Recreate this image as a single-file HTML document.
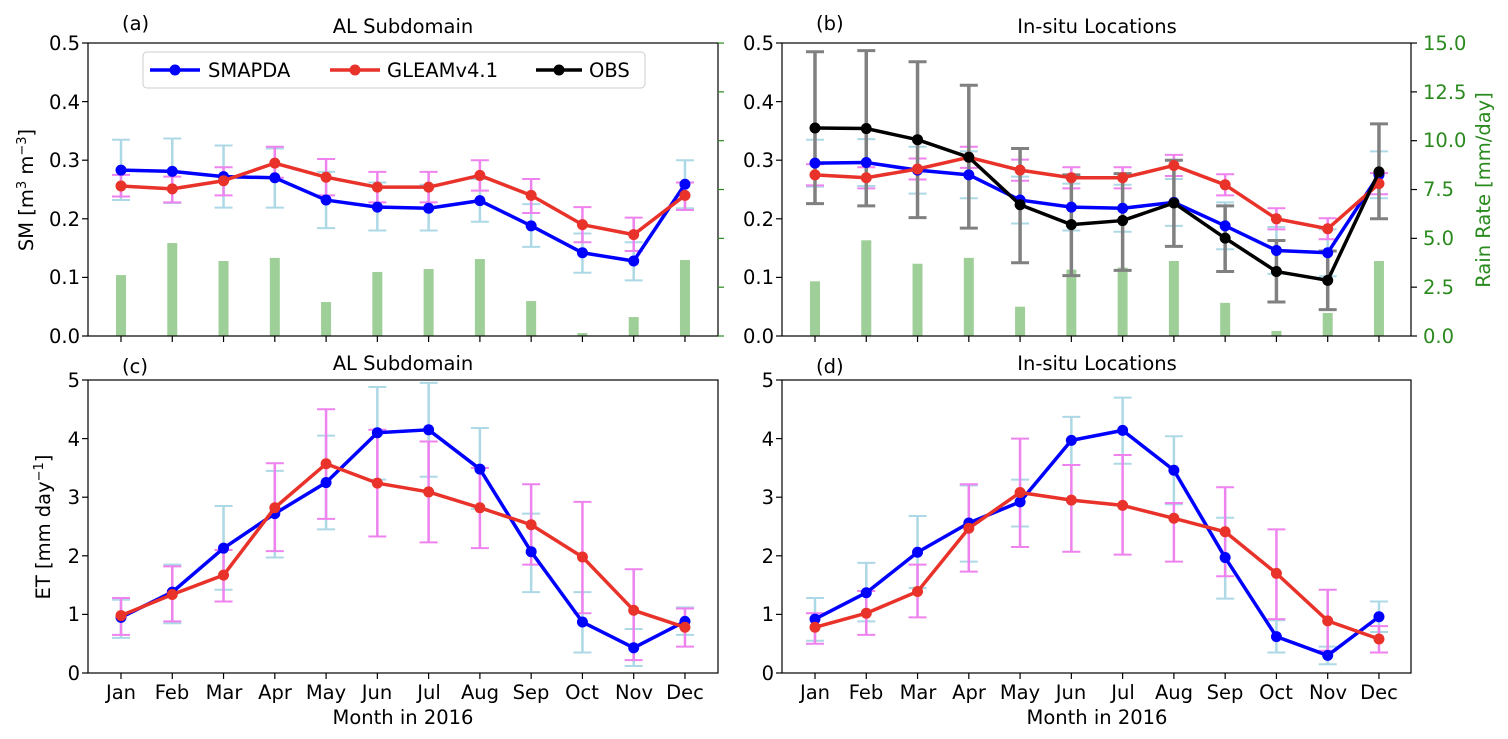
<!DOCTYPE html>
<html><head><meta charset="utf-8">
<style>
html,body{margin:0;padding:0;background:#fff;}
svg{display:block;font-family:"DejaVu Sans","Liberation Sans",sans-serif;}
text{font-size:19.5px;fill:#000;}
.g{fill:#2a8a1e;}
</style></head>
<body>
<svg id="s" width="1508" height="739" viewBox="0 0 1508 739" xmlns="http://www.w3.org/2000/svg">
<g id="data"></g>
<g fill="none" stroke="#000" stroke-width="1.2">
<rect x="88" y="43" width="630" height="293"/>
<rect x="782" y="43" width="629" height="293"/>
<rect x="88" y="380" width="630" height="293"/>
<rect x="782" y="380" width="629" height="293"/>
</g>
<g id="ticks" stroke="#000" stroke-width="1.2"></g>
<g text-anchor="end">
<text x="80" y="50">0.5</text><text x="80" y="109">0.4</text><text x="80" y="167">0.3</text><text x="80" y="226">0.2</text><text x="80" y="284">0.1</text><text x="80" y="343">0.0</text>
<text x="774" y="50">0.5</text><text x="774" y="109">0.4</text><text x="774" y="167">0.3</text><text x="774" y="226">0.2</text><text x="774" y="284">0.1</text><text x="774" y="343">0.0</text>
<text x="80" y="387">5</text><text x="80" y="446">4</text><text x="80" y="504">3</text><text x="80" y="563">2</text><text x="80" y="621">1</text><text x="80" y="680">0</text>
<text x="774" y="387">5</text><text x="774" y="446">4</text><text x="774" y="504">3</text><text x="774" y="563">2</text><text x="774" y="621">1</text><text x="774" y="680">0</text>
</g>
<g>
<text class="g" x="1423" y="50">15.0</text><text class="g" x="1423" y="99">12.5</text><text class="g" x="1423" y="147">10.0</text><text class="g" x="1423" y="196">7.5</text><text class="g" x="1423" y="245">5.0</text><text class="g" x="1423" y="294">2.5</text><text class="g" x="1423" y="343">0.0</text>
</g>
<g text-anchor="middle">
<text x="121" y="699">Jan</text><text x="172" y="699">Feb</text><text x="224" y="699">Mar</text><text x="275" y="699">Apr</text><text x="326" y="699">May</text><text x="377" y="699">Jun</text><text x="429" y="699">Jul</text><text x="480" y="699">Aug</text><text x="531" y="699">Sep</text><text x="582" y="699">Oct</text><text x="634" y="699">Nov</text><text x="685" y="699">Dec</text>
<text x="815" y="699">Jan</text><text x="866" y="699">Feb</text><text x="918" y="699">Mar</text><text x="969" y="699">Apr</text><text x="1020" y="699">May</text><text x="1071" y="699">Jun</text><text x="1123" y="699">Jul</text><text x="1174" y="699">Aug</text><text x="1225" y="699">Sep</text><text x="1276" y="699">Oct</text><text x="1328" y="699">Nov</text><text x="1379" y="699">Dec</text>
<text x="403" y="724">Month in 2016</text>
<text x="1097" y="724">Month in 2016</text>
<text x="403" y="33">AL Subdomain</text>
<text x="1097" y="33">In-situ Locations</text>
<text x="403" y="370">AL Subdomain</text>
<text x="1097" y="370">In-situ Locations</text>
</g>
<text x="122" y="30">(a)</text><text x="816" y="30">(b)</text>
<text x="122" y="373">(c)</text><text x="816" y="373">(d)</text>
<text transform="translate(33,190) rotate(-90)" text-anchor="middle">SM [m<tspan dy="-7" font-size="13">3</tspan><tspan dy="7"> m</tspan><tspan dy="-7" font-size="13">−3</tspan><tspan dy="7">]</tspan></text>
<text transform="translate(50,527) rotate(-90)" text-anchor="middle">ET [mm day<tspan dy="-7" font-size="13">−1</tspan><tspan dy="7">]</tspan></text>
<text class="g" transform="translate(1490,190) rotate(-90)" text-anchor="middle">Rain Rate [mm/day]</text>
<rect x="143" y="52" width="502" height="36" rx="4" fill="#fff" fill-opacity="0.85" stroke="#ccc"/>
<line x1="150" y1="70" x2="200" y2="70" stroke="#0000ff" stroke-width="3.5"/><circle cx="175" cy="70" r="5.5" fill="#0000ff"/>
<text x="208" y="77">SMAPDA</text>
<line x1="330" y1="70" x2="380" y2="70" stroke="#e8322a" stroke-width="3.5"/><circle cx="355" cy="70" r="5.5" fill="#e8322a"/>
<text x="387" y="77">GLEAMv4.1</text>
<line x1="536" y1="70" x2="582" y2="70" stroke="#000" stroke-width="3.5"/><circle cx="559" cy="70" r="5.5" fill="#000"/>
<text x="589" y="77">OBS</text>
</svg>
<script>
var NS="http://www.w3.org/2000/svg";
var D=document.getElementById('data'),T=document.getElementById('ticks');
function el(p,tag,a){var e=document.createElementNS(NS,tag);for(var k in a)e.setAttribute(k,a[k]);p.appendChild(e);return e;}
var panels=[{x0:121,y0:336,top:43,sc:586},{x0:815,y0:336,top:43,sc:586},{x0:121,y0:673,top:380,sc:58.6},{x0:815,y0:673,top:380,sc:58.6}];
var dx=51.27;
function X(p,i){return p.x0+i*dx;}
function Y(p,v){return p.y0-v*p.sc;}
function rain(p,arr){arr.forEach(function(v,i){var h=v*19.53;el(D,'rect',{x:X(p,i)-5,y:336-h,width:10,height:h,fill:'#9fcf98'});});}
function err(p,lo,hi,c,w){lo.forEach(function(l,i){var x=X(p,i),a=Y(p,l),b=Y(p,hi[i]);el(D,'line',{x1:x,y1:a,x2:x,y2:b,stroke:c,'stroke-width':w});el(D,'line',{x1:x-9,y1:a,x2:x+9,y2:a,stroke:c,'stroke-width':w-0.5});el(D,'line',{x1:x-9,y1:b,x2:x+9,y2:b,stroke:c,'stroke-width':w-0.5});});}
function ser(p,v,c){var pts=v.map(function(y,i){return X(p,i)+','+Y(p,y);}).join(' ');el(D,'polyline',{points:pts,fill:'none',stroke:c,'stroke-width':3.5,'stroke-linejoin':'round'});v.forEach(function(y,i){el(D,'circle',{cx:X(p,i),cy:Y(p,y),r:5.5,fill:c});});}
function pm(v,d){return [v.map(function(x){return x-d}),v.map(function(x){return x+d})];}
var BL='#0000ff',RD='#e8322a',LB='#add8e6',VI='#ee82ee';
var pa=panels[0];
rain(pa,[3.12,4.76,3.84,4.0,1.74,3.28,3.43,3.94,1.79,0.15,0.97,3.89]);
err(pa,[.232,.227,.219,.219,.184,.180,.180,.195,.152,.108,.095,.218],[.335,.337,.325,.320,.280,.262,.258,.268,.225,.175,.160,.300],LB,2.5);
err(pa,[.238,.228,.240,.270,.240,.228,.228,.248,.210,.160,.145,.215],[.275,.272,.288,.323,.302,.280,.280,.300,.268,.220,.202,.262],VI,2.5);
ser(pa,[.283,.281,.272,.270,.232,.220,.218,.231,.188,.142,.128,.259],BL);
ser(pa,[.256,.251,.265,.295,.271,.254,.254,.274,.240,.190,.173,.240],RD);
var pb=panels[1];
rain(pb,[2.8,4.9,3.7,4.0,1.5,3.4,3.5,3.84,1.7,0.26,1.18,3.84]);
var bS=[.295,.296,.283,.275,.232,.220,.218,.228,.188,.146,.142,.275],bG=[.275,.270,.285,.305,.283,.270,.270,.291,.258,.200,.183,.260],bO=[.355,.354,.335,.305,.224,.190,.197,.227,.167,.110,.095,.280];
var e1=pm(bS,0.04);err(pb,e1[0],e1[1],LB,2.5);
var e2=pm(bG,0.018);err(pb,e2[0],e2[1],VI,2.5);
err(pb,[.226,.222,.202,.184,.125,.103,.112,.153,.110,.058,.045,.200],[.485,.487,.468,.428,.320,.275,.277,.300,.222,.163,.145,.362],'#808080',3.5);
ser(pb,bS,BL);ser(pb,bG,RD);ser(pb,bO,'#000');
var pc=panels[2];
err(pc,[.6,.85,1.42,1.97,2.45,3.3,3.35,2.8,1.38,.35,.12,.65],[1.25,1.85,2.85,3.45,4.05,4.88,4.95,4.18,2.72,1.38,.75,1.12],LB,2.5);
err(pc,[.65,.88,1.22,2.08,2.63,2.33,2.23,2.13,1.85,1.02,.22,.45],[1.28,1.82,2.1,3.58,4.5,4.15,3.95,3.5,3.22,2.92,1.77,1.1],VI,2.5);
ser(pc,[.95,1.38,2.13,2.72,3.25,4.10,4.15,3.48,2.07,.87,.43,.88],BL);
ser(pc,[.98,1.34,1.67,2.82,3.57,3.24,3.09,2.82,2.53,1.98,1.07,.78],RD);
var pd=panels[3];
err(pd,[.55,.88,1.45,1.9,2.5,3.55,3.57,2.88,1.27,.35,.15,.7],[1.28,1.88,2.68,3.2,3.3,4.37,4.7,4.04,2.65,.9,.45,1.22],LB,2.5);
err(pd,[.5,.65,.95,1.73,2.15,2.07,2.02,1.9,1.65,.92,.38,.35],[1.02,1.4,1.85,3.22,4.0,3.55,3.72,2.9,3.17,2.45,1.42,.8],VI,2.5);
ser(pd,[.92,1.37,2.06,2.56,2.92,3.97,4.14,3.46,1.97,.62,.30,.96],BL);
ser(pd,[.78,1.02,1.39,2.47,3.08,2.95,2.86,2.64,2.41,1.70,.89,.58],RD);
panels.forEach(function(p,k){
 var L=k%2?782:88;
 for(var j=0;j<6;j++){var y=p.y0-j*(p.y0-p.top)/5;el(T,'line',{x1:L-6,y1:y,x2:L,y2:y});}
 for(var i=0;i<12;i++){var x=X(p,i);el(T,'line',{x1:x,y1:p.y0,x2:x,y2:p.y0+6});}
});
for(var j=0;j<7;j++){var y=336-j*2.5*19.53;el(T,'line',{x1:1411,y1:y,x2:1417,y2:y});el(T,'line',{x1:718,y1:y,x2:724,y2:y,stroke:'#2a8a1e'});}
</script>
</body></html>
